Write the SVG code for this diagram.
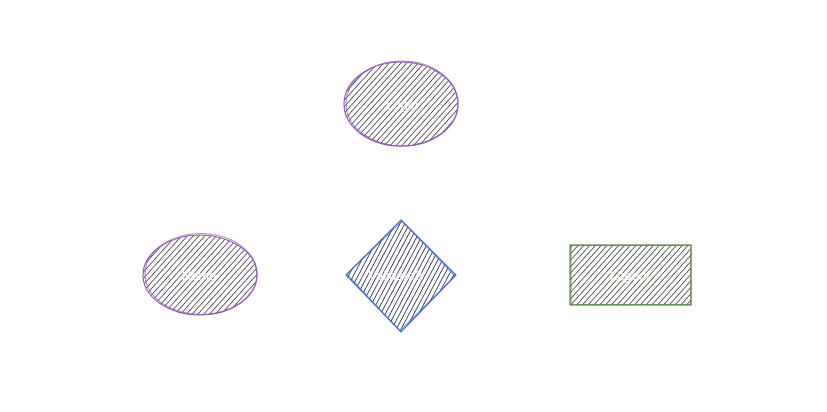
<svg xmlns="http://www.w3.org/2000/svg" width="827" height="412" viewBox="0 0 827 412">
  <defs>
    <pattern id="hPurple" patternUnits="userSpaceOnUse" width="4.3" height="4.3" patternTransform="rotate(42)">
      <line x1="0" y1="0" x2="0" y2="4.3" stroke="#2a2030" stroke-width="1.4"/>
    </pattern>
    <pattern id="hBlue" patternUnits="userSpaceOnUse" width="4.2" height="4.2" patternTransform="rotate(28)">
      <line x1="0" y1="0" x2="0" y2="4.2" stroke="#141c3a" stroke-width="1.5"/>
    </pattern>
    <pattern id="hGreen" patternUnits="userSpaceOnUse" width="4.3" height="4.3" patternTransform="rotate(42)">
      <line x1="0" y1="0" x2="0" y2="4.3" stroke="#202a1c" stroke-width="1.4"/>
    </pattern>
  </defs>
  <style>
    .lbl { font-family: "Liberation Sans", Arial, sans-serif; font-size: 13px; fill: #ffffff; text-anchor: middle; dominant-baseline: central; }
    .pur { stroke: #8a5cb0; stroke-width: 1.1; }
    .blu { stroke: #4466c8; stroke-width: 1.1; }
    .grn { stroke: #5b7f45; stroke-width: 1.1; }
  </style>
  <rect width="827" height="412" fill="#ffffff"/>
  <g id="connectors"/>
  <g id="node-top">
    <ellipse cx="401" cy="104" rx="57" ry="42" fill="url(#hPurple)" stroke="none"/>
    <ellipse cx="401" cy="104" rx="57" ry="42" fill="none" class="pur"/>
    <ellipse cx="402" cy="103.5" rx="56" ry="42.5" fill="none" class="pur" opacity="0.7"/>
    <text class="lbl" x="402" y="104">Login</text>
  </g>
  <g id="node-left">
    <ellipse cx="200" cy="275" rx="57" ry="40" fill="url(#hPurple)" stroke="none"/>
    <ellipse cx="200" cy="275" rx="57" ry="40" fill="none" class="pur"/>
    <ellipse cx="201" cy="274" rx="56" ry="40.5" fill="none" class="pur" opacity="0.7"/>
    <text class="lbl" x="199" y="275">Home</text>
  </g>
  <g id="node-diamond">
    <polygon points="401,220 456,275 401,332 346,275" fill="url(#hBlue)" stroke="none"/>
    <polygon points="401,220 456,275 401,332 346,275" fill="none" class="blu"/>
    <polygon points="402,221 455,276 400,331 347,274" fill="none" class="blu" opacity="0.7"/>
    <text class="lbl" x="395" y="275">Validate?</text>
  </g>
  <g id="node-rect">
    <rect x="570" y="245" width="121" height="60" fill="url(#hGreen)" stroke="none"/>
    <rect x="570" y="245" width="121" height="60" fill="none" class="grn"/>
    <rect x="571" y="245.5" width="120" height="59" fill="none" class="grn" opacity="0.7"/>
    <text class="lbl" x="630" y="275">Logout</text>
  </g>
</svg>
